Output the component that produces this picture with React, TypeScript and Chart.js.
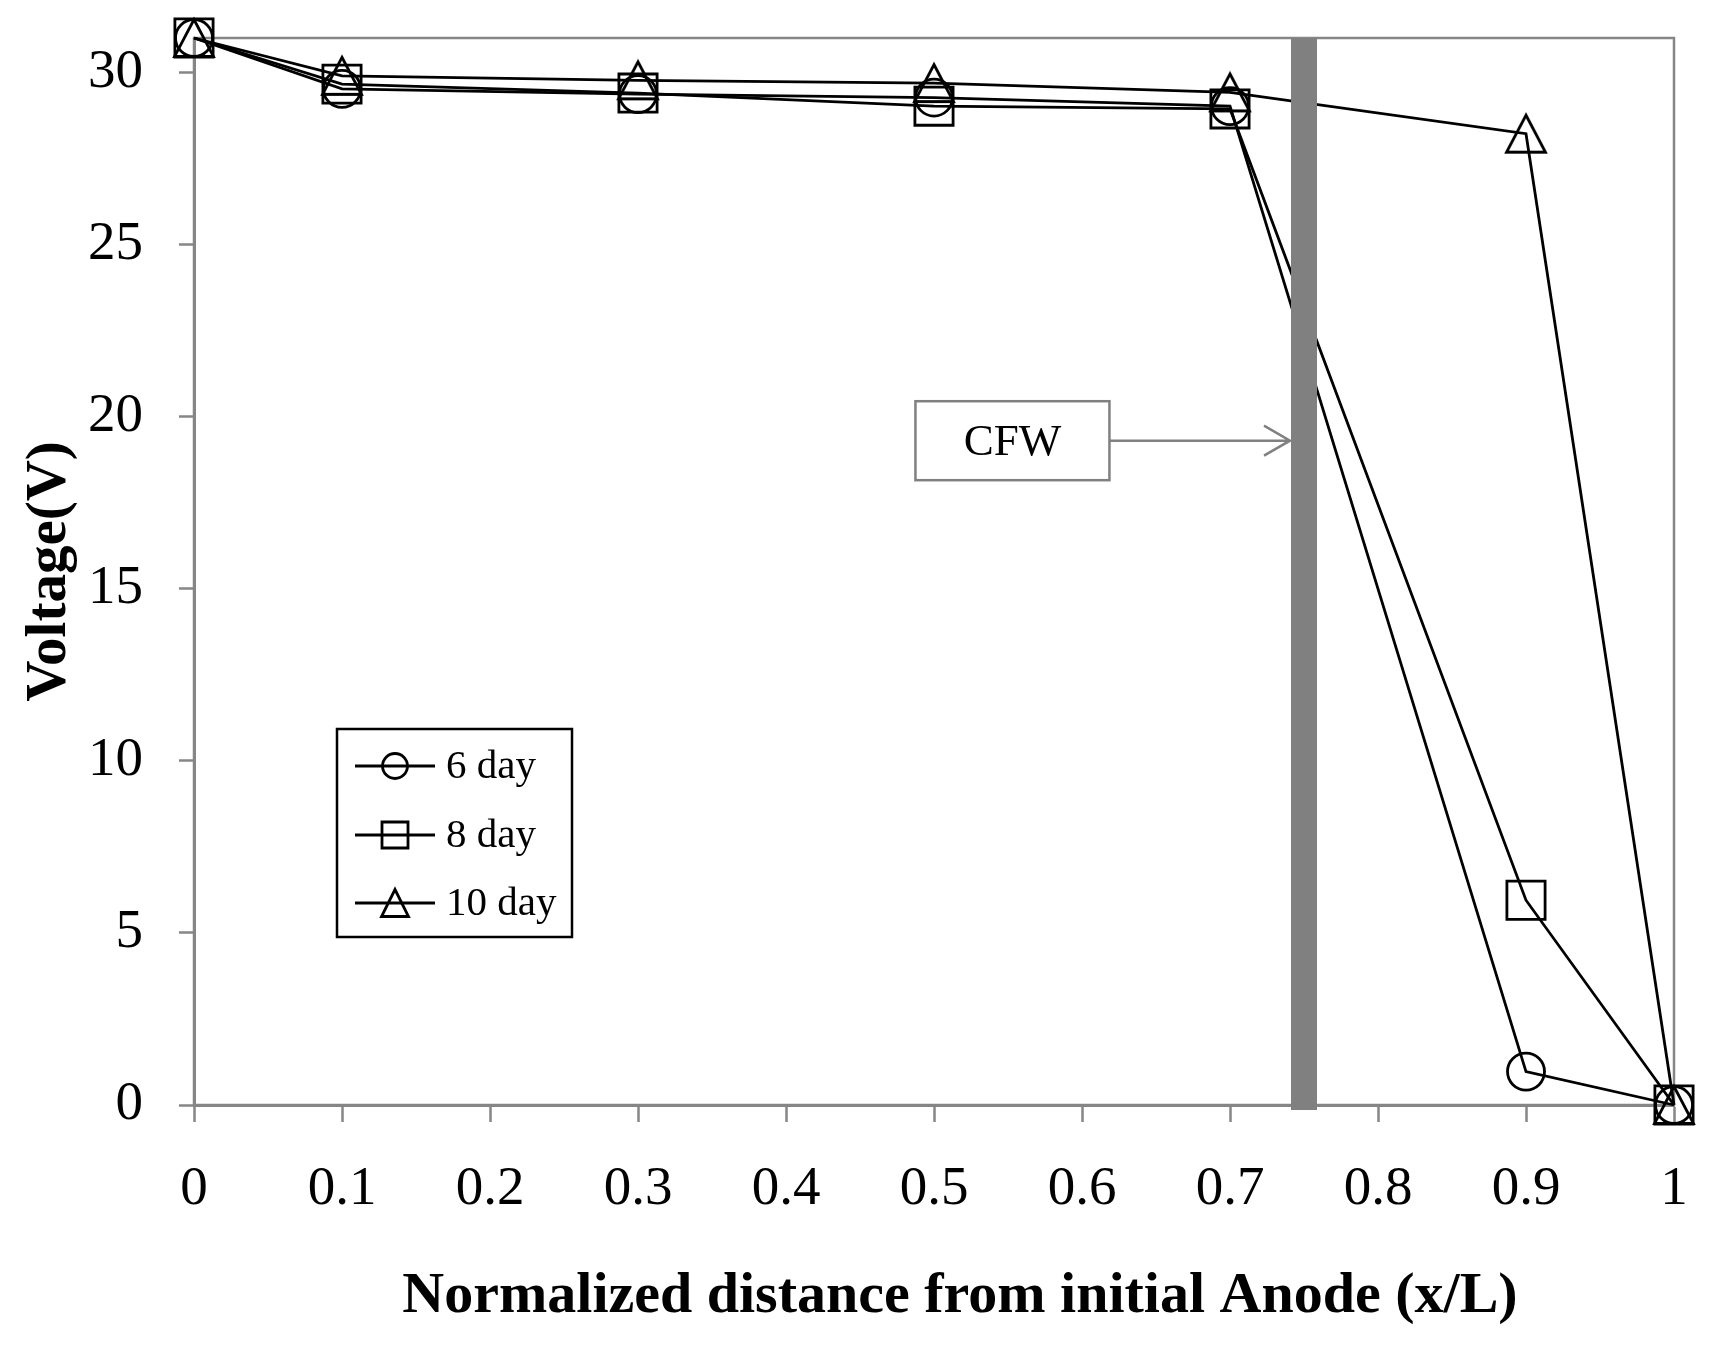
import React, { useEffect, useRef } from 'react';
import { Chart, registerables } from 'chart.js';

Chart.register(...registerables);

const xValues = [0, 0.1, 0.3, 0.5, 0.7, 0.9, 1];
const day6 = [31, 29.52, 29.37, 29.27, 29.02, 0.97, 0];
const day8 = [31, 29.66, 29.4, 29.02, 28.94, 5.95, 0];
const day10 = [31, 29.9, 29.77, 29.69, 29.42, 28.22, 0];
const seriesNames = ['6 day', '8 day', '10 day'];
const seriesMarkers = ['circle', 'rect', 'triangle'];

const xTickValues = [0, 0.1, 0.2, 0.3, 0.4, 0.5, 0.6, 0.7, 0.8, 0.9, 1];
const xTickLabels = ['0', '0.1', '0.2', '0.3', '0.4', '0.5', '0.6', '0.7', '0.8', '0.9', '1'];
const yTickValues = [0, 5, 10, 15, 20, 25, 30];
const yTickLabels = ['0', '5', '10', '15', '20', '25', '30'];

const cfwPosition = 0.75;
const cfwLabel = 'CFW';
const cfwArrowVoltage = 19.3;
const cfwBoxCenterX = 0.553;

const xTitle = 'Normalized distance from initial Anode (x/L)';
const yTitle = 'Voltage(V)';

const SERIF = '"Liberation Serif", "Times New Roman", serif';
const GRAY = '#868686';
const LW = 2.8;

function drawMarker(ctx: CanvasRenderingContext2D, style: string, x: number, y: number, size: number) {
  ctx.beginPath();
  if (style === 'circle') {
    ctx.arc(x, y, size / 2, 0, Math.PI * 2);
  } else if (style === 'rect') {
    ctx.rect(x - size / 2, y - size / 2, size, size);
  } else {
    ctx.moveTo(x, y - size / 2);
    ctx.lineTo(x + size / 2, y + size / 2);
    ctx.lineTo(x - size / 2, y + size / 2);
    ctx.closePath();
  }
  ctx.stroke();
}

function makeTriangleCanvas(w: number, h: number, lw: number) {
  const c = document.createElement('canvas');
  c.width = w + lw * 2 + 2;
  c.height = h + lw * 2 + 2;
  const ctx = c.getContext('2d')!;
  const cx = c.width / 2;
  const cy = c.height / 2;
  ctx.strokeStyle = '#000000';
  ctx.lineWidth = lw;
  ctx.lineJoin = 'miter';
  ctx.beginPath();
  ctx.moveTo(cx, cy - h / 2);
  ctx.lineTo(cx + w / 2, cy + h / 2);
  ctx.lineTo(cx - w / 2, cy + h / 2);
  ctx.closePath();
  ctx.stroke();
  return c;
}

const overlayPlugin = {
  id: 'overlay',
  beforeDatasetsDraw(chart: any) {
    const { ctx, chartArea: a } = chart;
    ctx.save();
    ctx.strokeStyle = GRAY;
    ctx.lineWidth = 2.5;
    ctx.strokeRect(a.left, a.top, a.right - a.left, a.bottom - a.top);
    ctx.restore();
  },
  afterDatasetsDraw(chart: any) {
    const { ctx, chartArea: a } = chart;
    const xs = chart.scales.x;
    const ys = chart.scales.y;
    ctx.save();
    // CFW bar
    const barX = xs.getPixelForValue(cfwPosition);
    const barW = 26;
    ctx.fillStyle = '#808080';
    ctx.fillRect(barX - barW / 2, a.top, barW, a.bottom - a.top + 5);

    // CFW box
    const bx = xs.getPixelForValue(cfwBoxCenterX);
    const by = ys.getPixelForValue(cfwArrowVoltage);
    const bw = 194;
    const bh = 79;
    ctx.fillStyle = '#ffffff';
    ctx.fillRect(bx - bw / 2, by - bh / 2, bw, bh);
    ctx.strokeStyle = '#808080';
    ctx.lineWidth = 2.5;
    ctx.strokeRect(bx - bw / 2, by - bh / 2, bw, bh);
    ctx.fillStyle = '#000000';
    ctx.font = `45px ${SERIF}`;
    ctx.textAlign = 'center';
    ctx.textBaseline = 'middle';
    ctx.fillText(cfwLabel, bx, by + 2);

    // arrow
    const tipX = barX - barW / 2 - 1;
    ctx.beginPath();
    ctx.moveTo(bx + bw / 2, by);
    ctx.lineTo(tipX, by);
    ctx.moveTo(tipX - 26, by - 15);
    ctx.lineTo(tipX, by);
    ctx.lineTo(tipX - 26, by + 15);
    ctx.stroke();

    // legend
    const lx = a.left + 143;
    const ly = 729;
    const lw = 235;
    const lh = 208;
    ctx.fillStyle = '#ffffff';
    ctx.fillRect(lx, ly, lw, lh);
    ctx.strokeStyle = '#000000';
    ctx.lineWidth = 2.5;
    ctx.strokeRect(lx, ly, lw, lh);
    const rows = [37, 106, 174];
    const sizes = [25, 26, 27];
    ctx.font = `41px ${SERIF}`;
    ctx.textAlign = 'left';
    ctx.textBaseline = 'middle';
    seriesNames.forEach((name, i) => {
      const ry = ly + rows[i];
      ctx.lineWidth = LW;
      ctx.beginPath();
      ctx.moveTo(lx + 18, ry);
      ctx.lineTo(lx + 98, ry);
      ctx.stroke();
      drawMarker(ctx, seriesMarkers[i], lx + 58, ry, sizes[i]);
      ctx.fillStyle = '#000000';
      ctx.fillText(name, lx + 109, ry + 1);
    });

    ctx.restore();
  },
  afterDraw(chart: any) {
    const { ctx } = chart;
    ctx.save();
    ctx.fillStyle = '#000000';
    ctx.font = `bold 58px ${SERIF}`;
    ctx.textAlign = 'center';
    ctx.textBaseline = 'middle';
    ctx.fillText(xTitle, 960, 1297);
    ctx.restore();
  },
};

export default function App() {
  const canvasRef = useRef<HTMLCanvasElement>(null);

  useEffect(() => {
    document.body.style.margin = '0';
    document.body.style.overflow = 'hidden';
    const canvas = canvasRef.current;
    if (!canvas) return;

    const triangle = makeTriangleCanvas(39, 37, LW);
    const series = [day6, day8, day10];
    const radii = [18.5, 27, 20];
    const styles: any[] = ['circle', 'rect', triangle];
    const datasets = series.map((vals, i) => ({
      label: seriesNames[i],
      data: xValues.map((x, j) => ({ x, y: vals[j] })),
      borderColor: '#000000',
      borderWidth: LW,
      pointStyle: styles[i],
      pointRadius: radii[i],
      pointHoverRadius: radii[i],
      pointBorderColor: '#000000',
      pointBackgroundColor: 'rgba(0,0,0,0)',
      pointBorderWidth: LW,
      fill: false,
      tension: 0,
      clip: false as any,
    }));

    const chart = new Chart(canvas, {
      type: 'line',
      data: { datasets },
      plugins: [overlayPlugin],
      options: {
        animation: false,
        responsive: false,
        events: [],
        layout: { autoPadding: false, padding: { top: 38, right: 57, left: 0, bottom: 0 } },
        plugins: {
          legend: { display: false },
          tooltip: { enabled: false },
        },
        scales: {
          x: {
            type: 'linear',
            min: 0,
            max: 1,
            afterBuildTicks: (s: any) => {
              s.ticks = xTickValues.map((v) => ({ value: v }));
            },
            afterFit: (s: any) => {
              s.height = 260;
              s.paddingLeft = 0;
              s.paddingRight = 0;
              s.paddingTop = 0;
              s.paddingBottom = 0;
            },
            ticks: {
              callback: (_v: any, i: number) => xTickLabels[i],
              font: { family: SERIF, size: 55 },
              color: '#000000',
              padding: 35,
              maxRotation: 0,
              autoSkip: false,
            },
            grid: {
              drawOnChartArea: false,
              drawTicks: true,
              tickLength: 17,
              tickColor: GRAY,
              tickWidth: 2.5,
            },
            border: { color: GRAY, width: 3 },
            title: { display: false },
          },
          y: {
            type: 'linear',
            min: 0,
            max: 31,
            afterBuildTicks: (s: any) => {
              s.ticks = yTickValues.map((v) => ({ value: v }));
            },
            afterFit: (s: any) => {
              s.width = 194;
              s.paddingLeft = 0;
              s.paddingRight = 0;
              s.paddingTop = 0;
              s.paddingBottom = 0;
            },
            ticks: {
              callback: (_v: any, i: number) => yTickLabels[i],
              font: { family: SERIF, size: 55 },
              color: '#000000',
              padding: 36,
              autoSkip: false,
            },
            grid: {
              drawOnChartArea: false,
              drawTicks: true,
              tickLength: 15,
              tickColor: GRAY,
              tickWidth: 2.5,
            },
            border: { color: GRAY, width: 3 },
            title: {
              display: true,
              text: yTitle,
              font: { family: SERIF, size: 57, weight: 'bold' },
              color: '#000000',
              padding: { top: 16, bottom: 0 },
            },
          },
        },
      } as any,
    });

    return () => chart.destroy();
  }, []);

  return (
    <div style={{ width: 1731, height: 1365 }}>
      <canvas ref={canvasRef} width={1731} height={1365} style={{ display: 'block' }} />
    </div>
  );
}
